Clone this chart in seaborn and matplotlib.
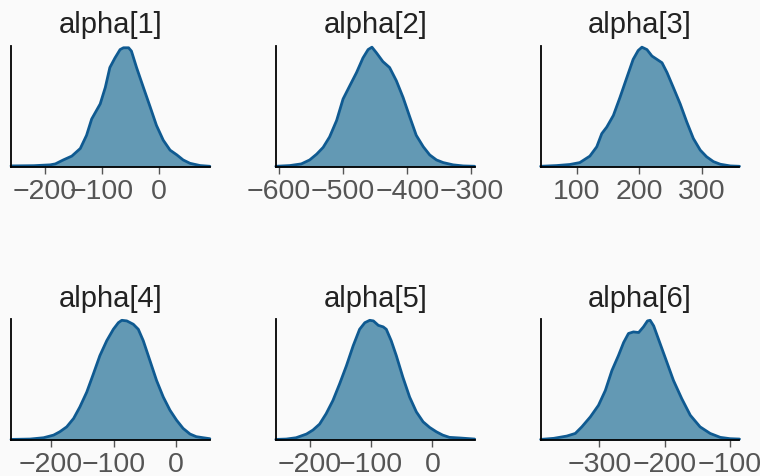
import matplotlib
matplotlib.use("Agg")
import matplotlib.pyplot as plt
import seaborn as sns
import pandas as pd

# Posterior density curves (x value, relative density) for each parameter
alpha1_x = [-260, -220, -191, -182, -168, -153, -138, -127, -118, -103, -94, -86, -77, -68, -62, -53, -48, -39, -27, -15, -4, 8, 20, 32, 43, 55, 73, 90]
alpha1_d = [0.008, 0.01, 0.017, 0.025, 0.058, 0.09, 0.154, 0.264, 0.40, 0.526, 0.664, 0.83, 0.91, 0.98, 0.995, 0.995, 0.967, 0.83, 0.664, 0.50, 0.347, 0.223, 0.14, 0.10, 0.058, 0.03, 0.011, 0.005]

alpha2_x = [-604.7, -583, -565, -552, -541, -531, -521, -510, -500, -489.5, -479, -469, -461, -455, -448, -438, -427.5, -417, -406.5, -396, -386, -375, -365, -354.5, -344, -328.6, -313, -295]
alpha2_d = [0.005, 0.011, 0.025, 0.058, 0.107, 0.163, 0.25, 0.388, 0.567, 0.678, 0.788, 0.91, 0.98, 1.0, 0.953, 0.88, 0.83, 0.72, 0.58, 0.416, 0.264, 0.168, 0.1, 0.058, 0.036, 0.017, 0.008, 0.005]

alpha3_x = [42.6, 68, 89, 105, 121, 132, 140, 148, 158.5, 169, 180, 190, 198, 204, 212, 220, 228, 236, 244, 254, 265, 275.5, 286, 297, 307, 318, 329, 345, 359.5]
alpha3_d = [0.005, 0.011, 0.02, 0.036, 0.09, 0.168, 0.278, 0.333, 0.43, 0.58, 0.747, 0.898, 0.972, 1.0, 0.98, 0.926, 0.898, 0.87, 0.788, 0.664, 0.526, 0.375, 0.237, 0.14, 0.085, 0.044, 0.022, 0.008, 0.005]

alpha4_x = [-264, -233.5, -212, -196, -186, -175, -164, -154, -143, -132.4, -122, -111, -100.5, -92.5, -87, -79, -68.6, -60.6, -52.7, -42, -31.4, -20.7, -10, 0.5, 11, 22, 32, 43, 53.7]
alpha4_d = [0.005, 0.008, 0.019, 0.041, 0.069, 0.11, 0.18, 0.276, 0.40, 0.552, 0.705, 0.83, 0.925, 0.98, 1.0, 0.995, 0.967, 0.925, 0.83, 0.663, 0.497, 0.359, 0.249, 0.166, 0.097, 0.05, 0.028, 0.019, 0.011]

alpha5_x = [-255, -238, -222, -205, -194.6, -183.7, -173, -162, -151, -140, -129, -118.5, -110, -102, -96, -88, -80, -75, -67, -58.7, -48, -37, -26, -15, -4.3, 6.5, 17, 28, 44.6, 69]
alpha5_d = [0.005, 0.008, 0.019, 0.05, 0.083, 0.133, 0.22, 0.33, 0.47, 0.62, 0.787, 0.925, 0.98, 1.0, 0.995, 0.958, 0.945, 0.925, 0.83, 0.705, 0.525, 0.359, 0.235, 0.152, 0.105, 0.069, 0.041, 0.022, 0.017, 0.008]

alpha6_x = [-390, -370, -350, -337, -327, -314, -301.5, -291, -281, -271, -263, -255.6, -248, -240, -232.7, -226.5, -222.4, -217, -209.7, -199.5, -186.7, -174, -161, -146, -130.6, -115, -100, -85.7]
alpha6_d = [0.005, 0.014, 0.033, 0.055, 0.11, 0.193, 0.29, 0.414, 0.58, 0.705, 0.815, 0.89, 0.903, 0.898, 0.945, 0.995, 1.0, 0.953, 0.843, 0.69, 0.497, 0.345, 0.207, 0.11, 0.055, 0.022, 0.011, 0.008]

titles = ["alpha[1]", "alpha[2]", "alpha[3]", "alpha[4]", "alpha[5]", "alpha[6]"]
xticks = [[-200, -100, 0], [-600, -500, -400, -300], [100, 200, 300],
          [-200, -100, 0], [-200, -100, 0], [-300, -200, -100]]
curves = [(alpha1_x, alpha1_d), (alpha2_x, alpha2_d), (alpha3_x, alpha3_d),
          (alpha4_x, alpha4_d), (alpha5_x, alpha5_d), (alpha6_x, alpha6_d)]

sns.set_theme(style="ticks")
plt.rcParams["font.family"] = ["Liberation Sans", "DejaVu Sans"]

bg = "#fafafa"
line_color = "#0f5a91"
fill_color = "#6399b4"

fig, axes = plt.subplots(2, 3, figsize=(7.6, 4.76), dpi=100, facecolor=bg)
fig.subplots_adjust(left=0.0145, right=0.973, bottom=0.0756, top=0.9034,
                    wspace=0.332, hspace=1.259)

for ax, (xs, ds), title, ticks in zip(axes.flat, curves, titles, xticks):
    ax.set_facecolor(bg)
    df = pd.DataFrame({"x": xs, "density": ds})
    ax.fill_between(df["x"], 0, df["density"], color=fill_color, lw=0)
    sns.lineplot(data=df, x="x", y="density", ax=ax, color=line_color,
                 lw=2.0, sort=False, clip_on=False,
                 solid_joinstyle="round", solid_capstyle="round")
    ax.set_xlim(min(xs), max(xs))
    ax.set_ylim(0, 1.01)
    ax.set_xticks(ticks)
    ax.set_yticks([])
    ax.set_xlabel("")
    ax.set_ylabel("")
    ax.set_title(title, fontsize=21, color="#222222", pad=9)
    ax.tick_params(axis="x", labelsize=20.5, colors="#555555", length=5,
                   width=1, pad=3.5)
    for side in ("top", "right"):
        ax.spines[side].set_visible(False)
    for side in ("left", "bottom"):
        ax.spines[side].set_color("black")
        ax.spines[side].set_linewidth(1.3)

fig.savefig("out.png", dpi=100, facecolor=bg)
